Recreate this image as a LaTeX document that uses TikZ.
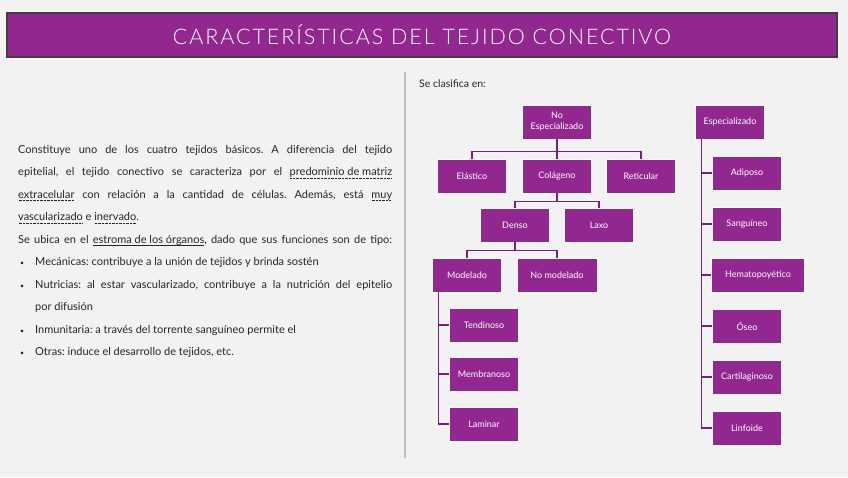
\documentclass[tikz,border=0pt]{standalone}
\usepackage{fontspec}
\setmainfont{Lato}
\newfontfamily\titlefont[LetterSpace=9]{Lato Light}
\usetikzlibrary{positioning}
\definecolor{fondo}{HTML}{F2F2F2}
\definecolor{morado}{HTML}{92278F}
\definecolor{moradoOsc}{HTML}{7A1F77}
\definecolor{marco}{HTML}{3F3F3F}
\definecolor{texto}{HTML}{262626}
\definecolor{divisor}{HTML}{BFBFBF}
\newcommand{\fullline}[2][374pt]{\makebox[#1][s]{#2}}
\newcommand{\vineta}{\makebox[17pt][l]{\hspace{2pt}{\fontsize{7}{7}\selectfont\textbullet}}}
\newsavebox{\cajasub}
\newcommand{\subrayado}[1]{\sbox{\cajasub}{#1}\leavevmode\rlap{\raisebox{-2.6pt}{\rule{\wd\cajasub}{0.6pt}}}\usebox{\cajasub}}
\newcommand{\punteado}[1]{\sbox{\cajasub}{#1}\leavevmode\rlap{\raisebox{-2.6pt}{\hbox to \wd\cajasub{\leaders\hbox to 1.4pt{\hss\rule{0.7pt}{0.6pt}\hss}\hfil}}}\usebox{\cajasub}}

\begin{document}
\begin{tikzpicture}[
    x=1pt, y=-1pt,
    caja/.style={draw=white, line width=0.6pt, fill=morado, text=white, minimum width=69pt, minimum height=34pt, font=\fontsize{9}{11}\selectfont, align=center, inner sep=1pt},
    rama/.style={draw=moradoOsc, line width=1.4pt}
]

% fondo y marco
\fill[fondo] (0,0) rectangle (848,477);
\useasboundingbox (0,0) rectangle (848,477);

% titulo
\node[draw=marco, line width=2pt, fill=morado, minimum width=830pt, minimum height=44pt, inner sep=0pt, text=white, font=\titlefont\fontsize{21.5}{24}\selectfont] (titulo) at (422,35) {CARACTERÍSTICAS DEL TEJIDO CONECTIVO};

% texto izquierdo
\node[anchor=north west, inner sep=0pt, align=left, text=texto, font=\frenchspacing\fontsize{11}{22.5}\selectfont] (descripcion) at (18,145) {%
\fullline{Constituye uno de los cuatro tejidos básicos. A diferencia del tejido}\\
\fullline{epitelial, el tejido conectivo se caracteriza por el \punteado{predominio de matriz}}\\
\fullline{\punteado{extracelular} con relación a la cantidad de células. Además, está \punteado{muy}}\\
\punteado{vascularizado} e \punteado{inervado}.\\
\fullline{Se ubica en el \subrayado{estroma de los órganos}, dado que sus funciones son de tipo:}\\
\vineta Mecánicas: contribuye a la unión de tejidos y brinda sostén\\
\vineta\fullline[357pt]{Nutricias: al estar vascularizado, contribuye a la nutrición del epitelio}\\
\hspace*{17pt}por difusión\\
\vineta Inmunitaria: a través del torrente sanguíneo permite el\\
\vineta Otras: induce el desarrollo de tejidos, etc.};

% divisor
\draw[divisor, line width=2pt] (405,72) coordinate (divA) -- (405,458) coordinate (divB);

\node[anchor=west, inner sep=0pt, text=texto, font=\fontsize{10.5}{12}\selectfont] (clasifica) at (419,84) {Se clasifica en:};

% no especializado
\node[caja] (noesp) at (557,122) {No\\Especializado};
\node[caja] (colageno) at (557,176) {Colágeno};
\node[caja] (elastico) at (472,176) {Elástico};
\node[caja] (reticular) at (641,176) {Reticular};
\node[caja] (denso) at (515,225) {Denso};
\node[caja] (laxo) at (599,225) {Laxo};
\node[caja] (modelado) at (467,275) {Modelado};
\node[caja, minimum width=80pt] (nomodelado) at (557,275) {No modelado};
\node[caja] (tendinoso) at (484,325) {Tendinoso};
\node[caja] (membranoso) at (484,374) {Membranoso};
\node[caja] (laminar) at (484,424) {Laminar};

\draw[rama] (noesp.south) -- ++(0,12) -| (elastico.north);
\draw[rama] (noesp.south) -- ++(0,12) -| (reticular.north);
\draw[rama] (noesp.south) -- (colageno.north);
\draw[rama] (colageno.south) -- ++(0,8) -| (denso.north);
\draw[rama] (colageno.south) -- ++(0,8) -| (laxo.north);
\draw[rama] (denso.south) -- ++(0,8) -| (modelado.north);
\draw[rama] (denso.south) -- ++(0,8) -| (nomodelado.north);
\foreach \hijo in {tendinoso, membranoso, laminar}
  \draw[rama] (modelado.south west) ++(6,0) |- (\hijo.west);

% especializado
\node[caja] (esp) at (730,122) {Especializado};
\node[caja] (adiposo) at (747,173) {Adiposo};
\node[caja] (sanguineo) at (747,224) {Sanguíneo};
\node[caja, minimum width=93pt] (hemato) at (758,275) {Hematopoyético};
\node[caja] (oseo) at (747,326) {Óseo};
\node[caja] (cartilaginoso) at (747,377) {Cartilaginoso};
\node[caja] (linfoide) at (747,428) {Linfoide};

\foreach \hijo in {adiposo, sanguineo, hemato, oseo, cartilaginoso, linfoide}
  \draw[rama] (esp.south west) ++(6,0) |- (\hijo.west);

\end{tikzpicture}
\end{document}
